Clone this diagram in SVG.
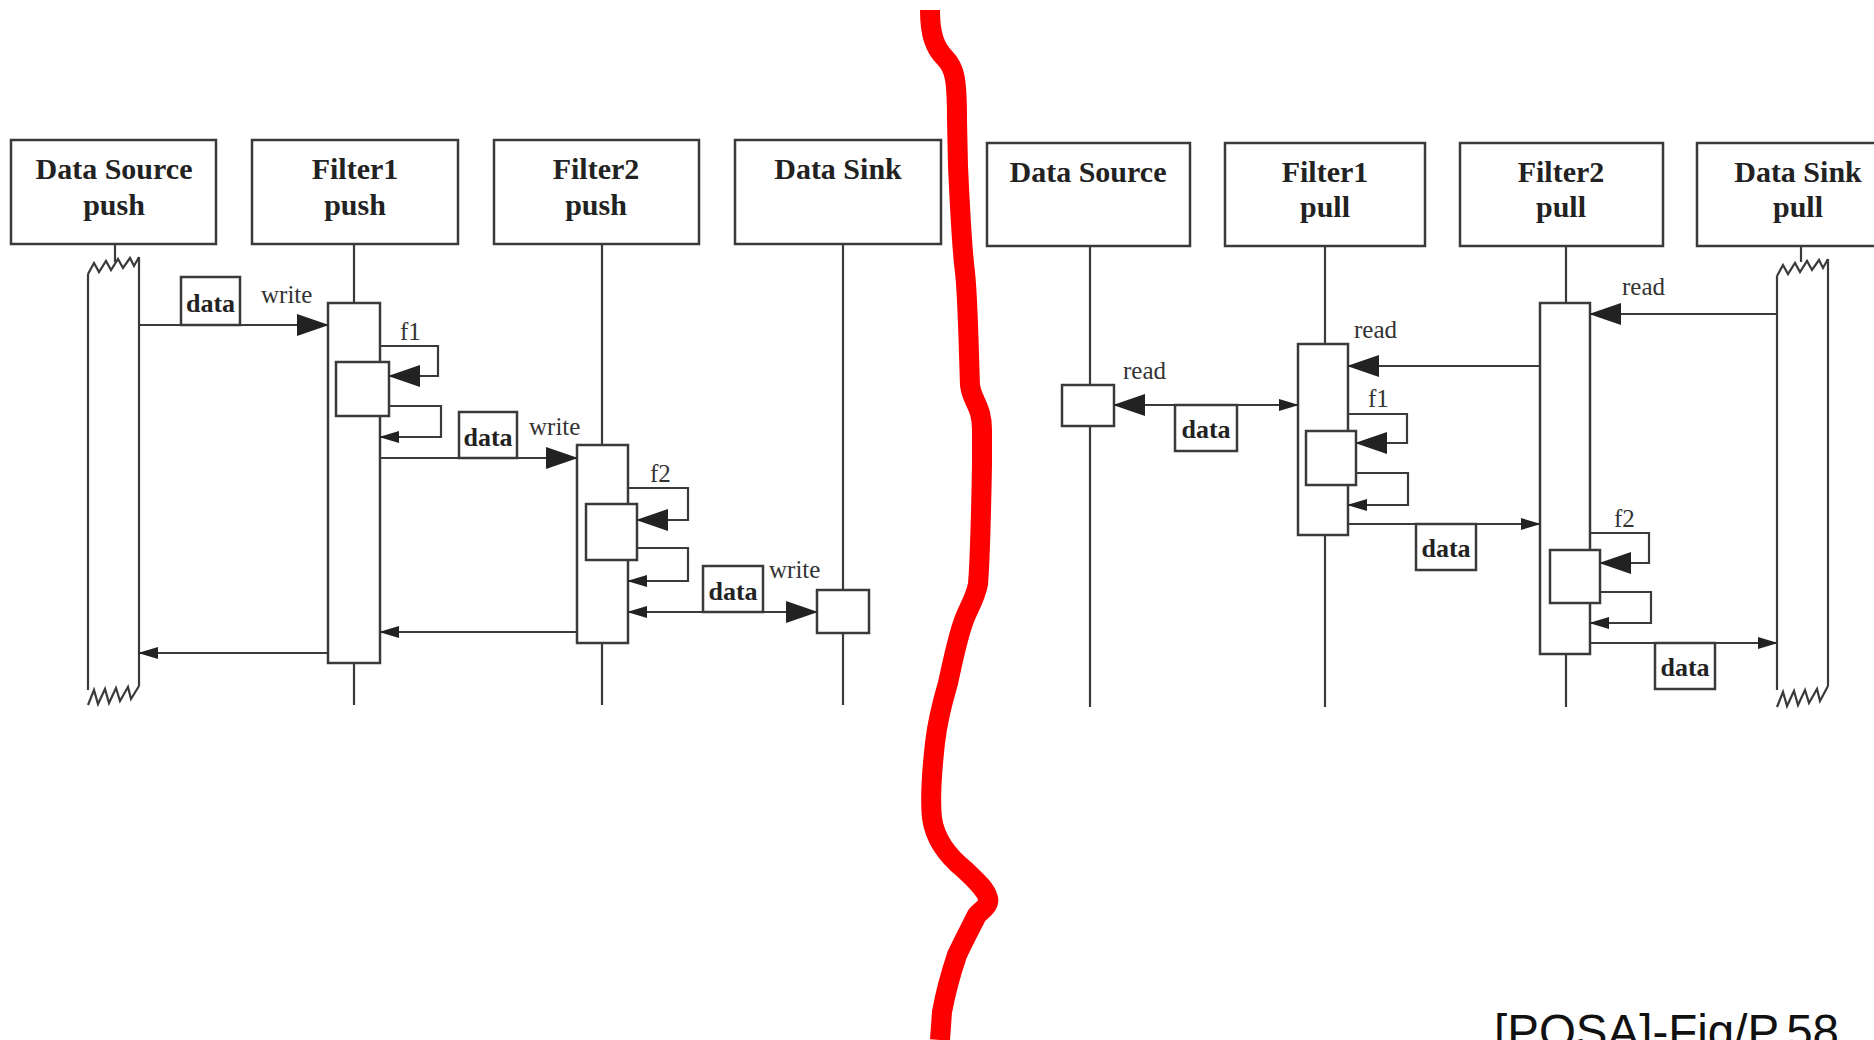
<svg xmlns="http://www.w3.org/2000/svg" width="1874" height="1040" viewBox="0 0 1874 1040">
<style>
.box{fill:#fff;stroke:#3a3a3a;stroke-width:2.5}
.ln{fill:none;stroke:#3a3a3a;stroke-width:2.2}
.hd{font-family:"Liberation Serif",serif;font-weight:bold;font-size:30px;fill:#222;text-anchor:middle}
.lb{font-family:"Liberation Serif",serif;font-size:25px;fill:#333}
.dt{font-family:"Liberation Serif",serif;font-weight:bold;font-size:26px;fill:#222;text-anchor:middle}
</style>
<defs>
<marker id="big" markerUnits="userSpaceOnUse" markerWidth="32" markerHeight="24" viewBox="0 0 32 24" refX="31" refY="12" orient="auto-start-reverse"><path d="M0,1 L32,12 L0,23 z" fill="#222"/></marker>
<marker id="sm" markerUnits="userSpaceOnUse" markerWidth="20" markerHeight="14" viewBox="0 0 20 14" refX="19" refY="7" orient="auto-start-reverse"><path d="M0,1 L20,7 L0,13 z" fill="#222"/></marker>
</defs>
<rect width="1874" height="1040" fill="#fff"/>

<!-- LEFT: push -->
<g id="ds-push">
<rect class="box" x="11" y="140" width="205" height="104"/>
<text class="hd" x="114" y="179">Data Source</text>
<text class="hd" x="114" y="215">push</text>
<line class="ln" x1="115" y1="244" x2="115" y2="262"/>
<polyline class="ln" points="88,274 94,263 99,272 106,261 111,270 118,259 123,268 130,258 134,266 139,257"/>
<line class="ln" x1="88" y1="274" x2="88" y2="690"/>
<line class="ln" x1="139" y1="257" x2="139" y2="686"/>
<polyline class="ln" points="88,705 94,690 98,704 105,689 109,703 116,688 120,701 128,687 131,699 139,686"/>
</g>
<g id="f1-push">
<rect class="box" x="252" y="140" width="206" height="104"/>
<text class="hd" x="355" y="179">Filter1</text>
<text class="hd" x="355" y="215">push</text>
<line class="ln" x1="354" y1="244" x2="354" y2="303"/>
<rect class="box" x="328" y="303" width="52" height="360"/>
<rect class="box" x="336" y="362" width="53" height="54"/>
<line class="ln" x1="354" y1="663" x2="354" y2="705"/>
</g>
<g id="f2-push">
<rect class="box" x="494" y="140" width="205" height="104"/>
<text class="hd" x="596" y="179">Filter2</text>
<text class="hd" x="596" y="215">push</text>
<line class="ln" x1="602" y1="244" x2="602" y2="445"/>
<rect class="box" x="577" y="445" width="51" height="198"/>
<rect class="box" x="586" y="504" width="51" height="56"/>
<line class="ln" x1="602" y1="643" x2="602" y2="705"/>
</g>
<g id="sink-push">
<rect class="box" x="735" y="140" width="206" height="104"/>
<text class="hd" x="838" y="179">Data Sink</text>
<line class="ln" x1="843" y1="244" x2="843" y2="590"/>
<rect class="box" x="817" y="590" width="52" height="43"/>
<line class="ln" x1="843" y1="633" x2="843" y2="705"/>
</g>

<!-- RIGHT: pull -->
<g id="ds-pull">
<rect class="box" x="987" y="143" width="203" height="103"/>
<text class="hd" x="1088" y="182">Data Source</text>
<line class="ln" x1="1090" y1="246" x2="1090" y2="385"/>
<rect class="box" x="1062" y="385" width="52" height="41"/>
<line class="ln" x1="1090" y1="426" x2="1090" y2="707"/>
</g>
<g id="f1-pull">
<rect class="box" x="1225" y="143" width="200" height="103"/>
<text class="hd" x="1325" y="182">Filter1</text>
<text class="hd" x="1325" y="217">pull</text>
<line class="ln" x1="1325" y1="246" x2="1325" y2="344"/>
<rect class="box" x="1298" y="344" width="50" height="191"/>
<rect class="box" x="1306" y="431" width="50" height="54"/>
<line class="ln" x1="1325" y1="535" x2="1325" y2="707"/>
</g>
<g id="f2-pull">
<rect class="box" x="1460" y="143" width="203" height="103"/>
<text class="hd" x="1561" y="182">Filter2</text>
<text class="hd" x="1561" y="217">pull</text>
<line class="ln" x1="1566" y1="246" x2="1566" y2="303"/>
<rect class="box" x="1540" y="303" width="50" height="351"/>
<rect class="box" x="1550" y="550" width="50" height="53"/>
<line class="ln" x1="1566" y1="654" x2="1566" y2="707"/>
</g>
<g id="sink-pull">
<rect class="box" x="1697" y="143" width="190" height="103"/>
<text class="hd" x="1798" y="182">Data Sink</text>
<text class="hd" x="1798" y="217">pull</text>
<line class="ln" x1="1801" y1="246" x2="1801" y2="262"/>
<polyline class="ln" points="1777,276 1783,265 1788,274 1795,263 1800,272 1807,261 1812,270 1819,260 1823,268 1828,259"/>
<line class="ln" x1="1777" y1="276" x2="1777" y2="690"/>
<line class="ln" x1="1828" y1="259" x2="1828" y2="686"/>
<polyline class="ln" points="1777,707 1783,692 1787,706 1794,691 1798,705 1805,690 1809,703 1817,689 1820,701 1828,686"/>
</g>

<g id="connectors">
<!-- push side -->
<line class="ln" x1="139" y1="325" x2="328" y2="325" marker-end="url(#big)"/>
<polyline class="ln" points="380,346 438,346 438,376 389,376" marker-end="url(#big)"/>
<polyline class="ln" points="389,406 441,406 441,437 380,437" marker-end="url(#sm)"/>
<line class="ln" x1="380" y1="458" x2="577" y2="458" marker-end="url(#big)"/>
<polyline class="ln" points="628,488 688,488 688,520 637,520" marker-end="url(#big)"/>
<polyline class="ln" points="637,548 688,548 688,581 628,581" marker-end="url(#sm)"/>
<line class="ln" x1="628" y1="612" x2="817" y2="612" marker-start="url(#sm)" marker-end="url(#big)"/>
<line class="ln" x1="577" y1="632" x2="380" y2="632" marker-end="url(#sm)"/>
<line class="ln" x1="328" y1="653" x2="139" y2="653" marker-end="url(#sm)"/>
<!-- pull side -->
<line class="ln" x1="1777" y1="314" x2="1590" y2="314" marker-end="url(#big)"/>
<line class="ln" x1="1540" y1="366" x2="1348" y2="366" marker-end="url(#big)"/>
<line class="ln" x1="1298" y1="405" x2="1114" y2="405" marker-start="url(#sm)" marker-end="url(#big)"/>
<polyline class="ln" points="1348,414 1407,414 1407,443 1356,443" marker-end="url(#big)"/>
<polyline class="ln" points="1356,473 1408,473 1408,505 1348,505" marker-end="url(#sm)"/>
<line class="ln" x1="1348" y1="524" x2="1540" y2="524" marker-end="url(#sm)"/>
<polyline class="ln" points="1590,533 1649,533 1649,563 1600,563" marker-end="url(#big)"/>
<polyline class="ln" points="1600,592 1651,592 1651,623 1590,623" marker-end="url(#sm)"/>
<line class="ln" x1="1590" y1="643" x2="1777" y2="643" marker-end="url(#sm)"/>
</g>

<g id="labels">
<rect class="box" x="181" y="277" width="59" height="48"/><text class="dt" x="210.5" y="312">data</text>
<text class="lb" x="261" y="303">write</text>
<text class="lb" x="400" y="340">f1</text>
<rect class="box" x="459" y="412" width="58" height="46"/><text class="dt" x="488" y="446">data</text>
<text class="lb" x="529" y="435">write</text>
<text class="lb" x="650" y="482">f2</text>
<rect class="box" x="703" y="566" width="60" height="46"/><text class="dt" x="733" y="600">data</text>
<text class="lb" x="769" y="578">write</text>

<text class="lb" x="1622" y="295">read</text>
<text class="lb" x="1354" y="338">read</text>
<text class="lb" x="1123" y="379">read</text>
<rect class="box" x="1175" y="405" width="62" height="46"/><text class="dt" x="1206" y="438">data</text>
<text class="lb" x="1368" y="407">f1</text>
<rect class="box" x="1416" y="524" width="60" height="46"/><text class="dt" x="1446" y="557">data</text>
<text class="lb" x="1614" y="527">f2</text>
<rect class="box" x="1655" y="643" width="60" height="46"/><text class="dt" x="1685" y="676">data</text>
</g>

<path d="M930,10 C930,35 935,48 945,58 C955,68 957,80 957,120 L958,166 C960,210 962,250 965,272 C968,300 969,360 970,385 C972,402 982,405 982,430 L982,464 C981,520 980,560 978,584 C975,600 967,610 963,623 C957,640 952,665 948,683 C943,700 937,725 935,743 C932,770 930,800 932,818 C935,840 950,858 965,870 C975,880 985,888 988,898 C990,905 982,910 977,915 C972,925 963,942 957,955 C952,970 946,990 942,1012 L940,1040" fill="none" stroke="#ff0000" stroke-width="20" stroke-linejoin="round"/>

<text x="1494" y="1048" font-family="Liberation Sans, Arial, sans-serif" font-size="47.5" fill="#111">[POSA]-Fig/P.58</text>
</svg>
